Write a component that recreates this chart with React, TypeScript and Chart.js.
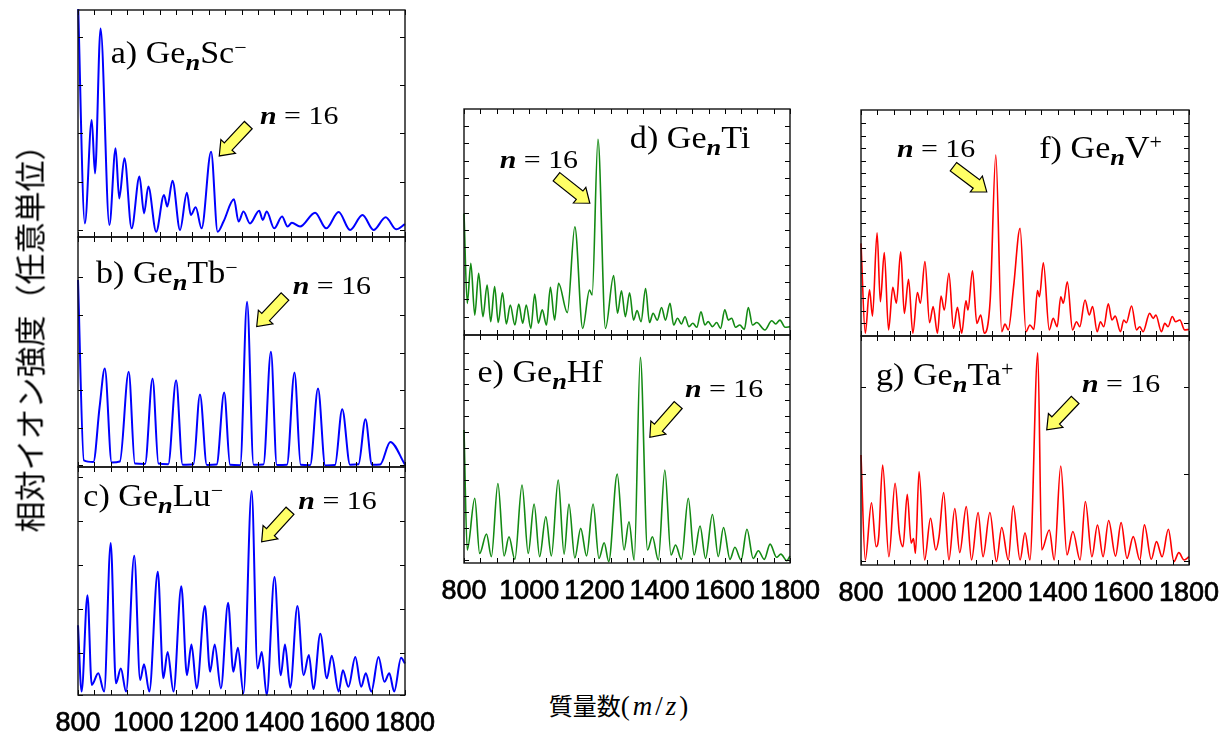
import React, { useEffect, useRef } from "react";
import { Chart, registerables } from "chart.js";

Chart.register(...registerables);

// ---------- axis settings ----------
const X_MIN = 800;
const X_MAX = 1800;
const X_LABEL_STEP = 200;
const X_MINOR_STEP = 50;
const Y_MIN = 0;
const Y_MAX = 100;

// ---------- a) GenSc- ----------
const scMz = [800, 821, 842, 852, 869, 896, 915, 926, 942, 964, 988, 1002, 1015, 1039, 1063, 1073, 1089, 1112, 1133, 1145, 1160, 1178, 1207, 1227, 1245, 1277, 1291, 1306, 1326, 1354, 1365, 1377, 1400, 1424, 1441, 1454, 1479, 1525, 1559, 1597, 1632, 1670, 1704, 1741, 1773, 1800];
const scInt = [104, 6.0, 51.5, 28.0, 91.9, 5.3, 39.1, 17.0, 34.7, 3.8, 26.6, 10.4, 22.2, 2.3, 18.5, 13.4, 24.8, 3.1, 19.5, 9.7, 13.1, 3.8, 37.6, 2.3, 6.8, 16.6, 6.8, 11.2, 6.0, 11.6, 7.5, 11.2, 3.8, 9.0, 4.6, 6.3, 4.6, 10.7, 3.8, 11.0, 3.1, 9.7, 3.1, 8.7, 3.4, 5.7];
const scYTicks = [3.1, 24.4, 45.7, 67.0, 88.3];

// ---------- b) GenTb- ----------
const tbMz = [800, 818, 847, 866, 882, 903, 928, 955, 974, 1005, 1028, 1046, 1076, 1100, 1120, 1153, 1173, 1194, 1224, 1247, 1265, 1296, 1317, 1337, 1367, 1390, 1408, 1439, 1462, 1481, 1510, 1534, 1556, 1586, 1608, 1632, 1658, 1679, 1699, 1724, 1755, 1800];
const tbInt = [81.3, 2.9, 2.2, 26, 42.8, 2.0, 2.4, 41.4, 1.5, 1.3, 38.5, 1.5, 1.2, 37.7, 1.0, 1.2, 31.5, 0.9, 1.1, 32.4, 1.0, 0.8, 71.8, 1.0, 1.1, 50.1, 0.9, 1.0, 41.1, 1.0, 0.8, 34.1, 0.7, 0.9, 25.1, 1.0, 1.2, 20.8, 1.0, 1.1, 10.9, 1.0];
const tbYTicks = [0.7, 17.0, 33.4, 49.6, 66.3, 82.7];

// ---------- c) GenLu- ----------
const luMz = [800, 811, 829, 842, 862, 880, 900, 916, 931, 947, 972, 990, 1002, 1018, 1044, 1061, 1074, 1092, 1116, 1133, 1147, 1163, 1188, 1204, 1218, 1237, 1259, 1275, 1289, 1306, 1331, 1349, 1362, 1377, 1401, 1420, 1433, 1449, 1471, 1490, 1506, 1520, 1541, 1561, 1576, 1597, 1610, 1627, 1648, 1666, 1680, 1697, 1719, 1737, 1752, 1767, 1788, 1800];
const luInt = [30.6, 1.5, 43.7, 4.4, 9.5, 1.5, 66.7, 5.1, 11.6, 1.5, 61.1, 6.6, 13.5, 1.5, 54.1, 7.3, 18.9, 1.5, 47.7, 8.7, 22.1, 2.9, 39.0, 10.2, 22.1, 2.9, 40.5, 10.2, 20.7, 0.7, 89.5, 11.6, 18.9, 0, 51.7, 8.7, 22.1, 3.2, 39.0, 8.7, 17.5, 2.6, 26.9, 7.3, 17.2, 1.5, 10.9, 3.6, 16.7, 3.6, 9.5, 1.5, 16.7, 5.8, 9.5, 1.5, 16.3, 13.8];
const luYTicks = [0, 18.6, 37.8, 57.1, 76.4, 95.6];

// ---------- d) GenTi ----------
const tiMz = [800, 810, 821, 833, 845, 858, 871, 882, 894, 905, 918, 930, 942, 956, 968, 980, 991, 1005, 1017, 1028, 1040, 1053, 1065, 1078, 1090, 1117, 1140, 1164, 1185, 1193, 1211, 1234, 1259, 1271, 1283, 1295, 1308, 1320, 1331, 1343, 1357, 1369, 1380, 1393, 1406, 1418, 1432, 1443, 1455, 1467, 1478, 1490, 1502, 1514, 1527, 1539, 1549, 1562, 1575, 1587, 1600, 1611, 1621, 1633, 1646, 1660, 1672, 1685, 1698, 1723, 1744, 1756, 1769, 1785, 1800];
const tiInt = [53.8, 14.0, 31.7, 8.8, 27.3, 8.1, 22.1, 5.9, 21.4, 5.5, 18.7, 4.9, 13.3, 4.4, 13.7, 5.2, 13.3, 2.9, 18.1, 5.2, 11.1, 4.4, 21.1, 6.6, 22.9, 9.9, 47.9, 2.9, 19.9, 17.7, 86.6, 2.9, 26.3, 9.6, 19.6, 8.1, 18.7, 6.6, 10.8, 5.9, 20.6, 5.5, 9.6, 6.6, 12.2, 6.6, 14.0, 4.4, 7.4, 4.9, 8.1, 3.7, 5.2, 3.4, 10.3, 4.4, 5.9, 3.7, 5.5, 2.9, 11.1, 6.6, 7.4, 3.4, 4.4, 2.5, 12.2, 4.4, 5.5, 2.2, 6.3, 4.9, 6.6, 3.4, 3.7];
const tiYTicks = [8.1, 15.8, 23.4, 31.1, 38.8, 46.4, 54.1, 61.8, 69.4, 77.1, 84.8, 92.4];

// ---------- e) GenHf ----------
const hfMz = [800, 810, 833, 848, 869, 884, 904, 923, 938, 956, 978, 997, 1015, 1032, 1051, 1068, 1089, 1107, 1122, 1140, 1158, 1176, 1196, 1214, 1230, 1244, 1270, 1291, 1306, 1322, 1341, 1363, 1378, 1396, 1416, 1435, 1449, 1467, 1488, 1506, 1524, 1541, 1562, 1580, 1596, 1616, 1631, 1650, 1668, 1687, 1703, 1721, 1739, 1759, 1772, 1790, 1800];
const hfInt = [58.3, 5.7, 28.4, 4.2, 12.7, 2.8, 34.9, 3.1, 11.5, 1.6, 34.2, 4.2, 25.9, 2.8, 20.3, 3.1, 36.4, 3.9, 25.9, 2.2, 15.2, 3.1, 25.9, 2.0, 8.9, 0.6, 39.0, 5.7, 18.1, 1.3, 90.2, 5.7, 11.5, 1.3, 40.8, 3.5, 7.9, 1.6, 28.4, 3.5, 16.2, 2.0, 21.3, 2.8, 15.6, 1.6, 6.9, 1.3, 14.8, 2.0, 5.4, 1.6, 8.3, 2.5, 3.9, 1.0, 3.1];
const hfYTicks = [1.3, 8.3, 15.3, 22.3, 29.3, 36.3, 43.3, 50.3, 57.3, 64.3, 71.3, 78.3, 85.3, 92.3];

// ---------- f) GenV+ ----------
const vMz = [800, 813, 826, 835, 849, 859, 871, 884, 897, 908, 921, 932, 945, 958, 972, 981, 995, 1009, 1020, 1033, 1044, 1054, 1068, 1082, 1094, 1107, 1120, 1126, 1140, 1153, 1165, 1176, 1194, 1211, 1229, 1239, 1249, 1265, 1285, 1303, 1315, 1327, 1338, 1344, 1356, 1374, 1386, 1398, 1409, 1417, 1429, 1445, 1457, 1467, 1483, 1496, 1506, 1520, 1530, 1540, 1554, 1565, 1575, 1591, 1601, 1609, 1625, 1640, 1650, 1660, 1680, 1691, 1699, 1716, 1726, 1736, 1749, 1759, 1772, 1787, 1800];
const vInt = [41.0, 1.2, 20.4, 8.8, 45.7, 15.2, 36.9, 2.7, 21.5, 14.5, 37.3, 10.0, 25.1, 1.2, 19.2, 14.5, 32.9, 5.9, 13.0, 1.2, 17.7, 11.5, 27.7, 3.4, 12.7, 1.2, 15.6, 11.5, 28.9, 5.6, 9.3, 1.2, 16.2, 80.1, 1.9, 5.3, 2.7, 21.5, 47.6, 1.9, 4.9, 2.9, 20.1, 17.4, 32.4, 2.7, 7.8, 4.1, 17.4, 14.5, 24.0, 2.7, 6.3, 4.1, 15.9, 9.3, 13.0, 1.9, 6.3, 4.1, 14.2, 7.1, 8.8, 1.9, 7.1, 5.9, 13.3, 2.7, 4.1, 1.9, 10.0, 7.8, 9.3, 1.9, 5.6, 4.1, 8.6, 6.3, 7.1, 2.7, 2.9];
const vYTicks = [5.6, 11.1, 16.7, 22.2, 27.7, 33.3, 38.8, 44.3, 49.8, 55.4, 60.9, 66.4, 72.0, 77.5, 83.0, 88.5, 94.1];

// ---------- g) GenTa+ ----------
const taMz = [800, 813, 832, 846, 854, 866, 885, 904, 917, 928, 941, 953, 960, 966, 977, 994, 1012, 1028, 1038, 1052, 1068, 1086, 1101, 1121, 1137, 1157, 1172, 1193, 1213, 1229, 1249, 1264, 1285, 1300, 1315, 1339, 1351, 1374, 1389, 1409, 1428, 1446, 1468, 1484, 1504, 1521, 1538, 1555, 1576, 1593, 1611, 1630, 1650, 1664, 1685, 1701, 1718, 1737, 1754, 1769, 1785, 1800];
const taInt = [48.0, 2.2, 27.2, 8.0, 12.4, 43.7, 3.6, 35.7, 13.8, 8.0, 30.9, 9.5, 11.6, 5.1, 40.8, 2.2, 20.4, 6.6, 12.4, 31.6, 2.2, 24.7, 5.4, 25.5, 2.2, 22.9, 3.6, 22.9, 1.5, 16.4, 2.2, 25.8, 2.2, 14.1, 2.2, 92.7, 6.6, 15.3, 2.2, 43.2, 4.4, 14.6, 2.2, 27.7, 3.6, 17.5, 3.6, 19.4, 3.9, 18.5, 2.9, 12.4, 2.2, 17.5, 2.5, 10.2, 3.6, 15.6, 1.5, 5.4, 2.2, 3.6];
const taYTicks = [1.9, 39.7, 77.6];

// ---------- style ----------
const BLUE = "#0000ff";
const GREEN = "#138a13";
const RED = "#ff0000";
const SERIF = '"Liberation Serif", "Times New Roman", serif';
const SANS = '"Liberation Sans", Arial, sans-serif';
const CJK = '"Noto Sans CJK JP", sans-serif';

const PAD_L = 44;
const PAD_R = 44;
const PAD_T = 6;
const PAD_B = 6;
const X_AXIS_H = 50;

type Pt = [number, number];
type PanelSpec = {
  key: string;
  mz: number[];
  inten: number[];
  color: string;
  lineWidth: number;
  yTicks: number[];
  showX: boolean;
  box: { left: number; top: number; width: number; height: number };
  letter: string;
  element: string;
  charge: string;
  labelAt: Pt;
  nAt: Pt;
  arrowTail: Pt;
  arrowTip: Pt;
};

const PANELS: PanelSpec[] = [
  { key: "a", mz: scMz, inten: scInt, color: BLUE, lineWidth: 2, yTicks: scYTicks, showX: false,
    box: { left: 78, top: 10, width: 327, height: 227 }, letter: "a", element: "Sc", charge: "\u2212",
    labelAt: [900, 76.7], nAt: [1356.6, 49.8], arrowTail: [1320.8, 49.3], arrowTip: [1232, 35.7] },
  { key: "b", mz: tbMz, inten: tbInt, color: BLUE, lineWidth: 2, yTicks: tbYTicks, showX: false,
    box: { left: 78, top: 237, width: 327, height: 230 }, letter: "b", element: "Tb", charge: "\u2212",
    labelAt: [855, 80.0], nAt: [1456.6, 75.2], arrowTail: [1433, 74.1], arrowTip: [1346.5, 61.1] },
  { key: "c", mz: luMz, inten: luInt, color: BLUE, lineWidth: 2, yTicks: luYTicks, showX: true,
    box: { left: 78, top: 467, width: 327, height: 228 }, letter: "c", element: "Lu", charge: "\u2212",
    labelAt: [816.2, 83.0], nAt: [1473.7, 81.5], arrowTail: [1448.3, 80.8], arrowTip: [1361.7, 67.2] },
  { key: "d", mz: tiMz, inten: tiInt, color: GREEN, lineWidth: 1.6, yTicks: tiYTicks, showX: false,
    box: { left: 464, top: 109, width: 326, height: 226 }, letter: "d", element: "Ti", charge: "",
    labelAt: [1308.7, 82.6], nAt: [909.6, 73.8], arrowTail: [1083.7, 70.0], arrowTip: [1185.9, 58.3] },
  { key: "e", mz: hfMz, inten: hfInt, color: GREEN, lineWidth: 1.6, yTicks: hfYTicks, showX: true,
    box: { left: 464, top: 335, width: 326, height: 228 }, letter: "e", element: "Hf", charge: "",
    labelAt: [841.1, 79.5], nAt: [1477.6, 72.9], arrowTail: [1457, 69.3], arrowTip: [1370.1, 55.1] },
  { key: "f", mz: vMz, inten: vInt, color: RED, lineWidth: 1.6, yTicks: vYTicks, showX: false,
    box: { left: 861, top: 110, width: 328, height: 226 }, letter: "f", element: "V", charge: "+",
    labelAt: [1343.5, 78.6], nAt: [909.5, 79.1], arrowTail: [1081.8, 74.9], arrowTip: [1183.4, 63.8] },
  { key: "g", mz: taMz, inten: taInt, color: RED, lineWidth: 1.6, yTicks: taYTicks, showX: true,
    box: { left: 861, top: 336, width: 328, height: 229 }, letter: "g", element: "Ta", charge: "+",
    labelAt: [845.9, 78.6], nAt: [1473.4, 75.7], arrowTail: [1452.9, 72.1], arrowTip: [1366.3, 59.0] },
];

type Part = { text: string; font: string; dy: number };

function drawRich(ctx: CanvasRenderingContext2D, x: number, y: number, parts: Part[], stretch: number) {
  ctx.save();
  ctx.translate(x, y);
  ctx.scale(stretch, 1);
  ctx.fillStyle = "#000";
  ctx.textBaseline = "alphabetic";
  ctx.textAlign = "left";
  let cx = 0;
  for (const part of parts) {
    ctx.font = part.font;
    ctx.fillText(part.text, cx, part.dy);
    cx += ctx.measureText(part.text).width;
  }
  ctx.restore();
}

function drawArrow(ctx: CanvasRenderingContext2D, x0: number, y0: number, x1: number, y1: number) {
  const dx = x1 - x0;
  const dy = y1 - y0;
  const L = Math.hypot(dx, dy);
  const ux = dx / L;
  const uy = dy / L;
  const vx = -uy;
  const vy = ux;
  const sw = 5.3;
  const hw = 10;
  const hl = 13;
  const pts: Pt[] = [[0, -sw], [L - hl, -sw], [L - hl, -hw], [L, 0], [L - hl, hw], [L - hl, sw], [0, sw]];
  ctx.save();
  ctx.beginPath();
  pts.forEach(([a, b], i) => {
    const px = x0 + ux * a + vx * b;
    const py = y0 + uy * a + vy * b;
    if (i === 0) ctx.moveTo(px, py);
    else ctx.lineTo(px, py);
  });
  ctx.closePath();
  ctx.fillStyle = "#ffff66";
  ctx.fill();
  ctx.strokeStyle = "#000";
  ctx.lineWidth = 1.2;
  ctx.lineJoin = "miter";
  ctx.stroke();
  ctx.restore();
}

function makeDecoPlugin(p: PanelSpec) {
  return {
    id: "deco_" + p.key,
    afterDatasetsDraw(chart: any) {
      const ctx: CanvasRenderingContext2D = chart.ctx;
      const area = chart.chartArea;
      const xs = chart.scales.x;
      const ys = chart.scales.y;
      const TL = 5;
      ctx.save();
      // inner tick marks
      ctx.strokeStyle = "#000";
      ctx.lineWidth = 1;
      ctx.beginPath();
      for (let v = X_MIN; v <= X_MAX; v += X_MINOR_STEP) {
        const px = Math.round(xs.getPixelForValue(v)) + 0.5;
        ctx.moveTo(px, area.bottom);
        ctx.lineTo(px, area.bottom - TL);
        ctx.moveTo(px, area.top);
        ctx.lineTo(px, area.top + TL);
      }
      for (const v of p.yTicks) {
        const py = Math.round(ys.getPixelForValue(v)) + 0.5;
        ctx.moveTo(area.left, py);
        ctx.lineTo(area.left + TL, py);
        ctx.moveTo(area.right, py);
        ctx.lineTo(area.right - TL, py);
      }
      ctx.stroke();
      // frame
      ctx.lineWidth = 1.4;
      ctx.strokeStyle = "#111";
      ctx.strokeRect(area.left, area.top, area.right - area.left, area.bottom - area.top);
      ctx.restore();

      // panel label
      const labelParts: Part[] = [
        { text: `${p.letter}) Ge`, font: `31px ${SERIF}`, dy: 0 },
        { text: "n", font: `italic bold 24px ${SERIF}`, dy: 7 },
        { text: p.element, font: `31px ${SERIF}`, dy: 0 },
      ];
      if (p.charge) labelParts.push({ text: p.charge, font: `20px ${SERIF}`, dy: -9 });
      drawRich(ctx, xs.getPixelForValue(p.labelAt[0]), ys.getPixelForValue(p.labelAt[1]), labelParts, 1.1);

      // n = 16
      const nParts: Part[] = [
        { text: "n", font: `italic bold 26px ${SERIF}`, dy: 0 },
        { text: " = 16", font: `26px ${SERIF}`, dy: 0 },
      ];
      drawRich(ctx, xs.getPixelForValue(p.nAt[0]), ys.getPixelForValue(p.nAt[1]), nParts, 1.15);

      drawArrow(
        ctx,
        xs.getPixelForValue(p.arrowTail[0]),
        ys.getPixelForValue(p.arrowTail[1]),
        xs.getPixelForValue(p.arrowTip[0]),
        ys.getPixelForValue(p.arrowTip[1])
      );
    },
  };
}

function PanelChart({ p }: { p: PanelSpec }) {
  const ref = useRef<HTMLCanvasElement>(null);
  const w = p.box.width + PAD_L + PAD_R;
  const h = p.box.height + PAD_T + PAD_B + (p.showX ? X_AXIS_H : 0);

  useEffect(() => {
    const canvas = ref.current;
    if (!canvas) return;
    const xScale: any = {
      type: "linear",
      min: X_MIN,
      max: X_MAX,
      display: p.showX,
      grid: { display: false, drawTicks: false },
      border: { display: false },
      ticks: {
        stepSize: X_LABEL_STEP,
        autoSkip: false,
        maxRotation: 0,
        minRotation: 0,
        padding: 12,
        color: "#000",
        textStrokeColor: "#000",
        textStrokeWidth: 0.7,
        font: { family: SANS, size: 27 },
        callback: (v: any) => String(v),
      },
    };
    if (p.showX) {
      xScale.afterFit = (s: any) => {
        s.height = X_AXIS_H;
      };
    }
    const chart = new Chart(canvas, {
      type: "line",
      data: {
        datasets: [
          {
            data: p.mz.map((m, i) => ({ x: m, y: p.inten[i] })),
            borderColor: p.color,
            borderWidth: p.lineWidth,
            pointRadius: 0,
            fill: false,
            cubicInterpolationMode: "monotone",
            clip: 1,
          } as any,
        ],
      },
      options: {
        responsive: false,
        animation: false,
        events: [],
        layout: { padding: { left: PAD_L, right: PAD_R, top: PAD_T, bottom: PAD_B } },
        plugins: { legend: { display: false }, tooltip: { enabled: false }, title: { display: false } },
        scales: {
          x: xScale,
          y: {
            type: "linear",
            min: Y_MIN,
            max: Y_MAX,
            display: false,
          },
        },
      } as any,
      plugins: [makeDecoPlugin(p)],
    });
    return () => chart.destroy();
  }, [p]);

  return (
    <div style={{ position: "absolute", left: p.box.left - PAD_L, top: p.box.top - PAD_T, width: w, height: h }}>
      <canvas ref={ref} width={w} height={h} style={{ width: w, height: h, display: "block" }} />
    </div>
  );
}

export default function App() {
  return (
    <div style={{ position: "absolute", left: 0, top: 0, width: 1229, height: 737, background: "#fff", overflow: "hidden" }}>
      {PANELS.map((p) => (
        <PanelChart key={p.key} p={p} />
      ))}
      <div
        style={{
          position: "absolute",
          left: 28,
          top: 331,
          transform: "translate(-50%, -50%) rotate(-90deg)",
          fontFamily: CJK,
          fontSize: 31,
          lineHeight: 1,
          whiteSpace: "nowrap",
          color: "#000",
        }}
      >
        相対イオン強度（任意単位）
      </div>
      <div
        style={{
          position: "absolute",
          left: 620,
          top: 706,
          transform: "translate(-50%, -50%)",
          whiteSpace: "nowrap",
          lineHeight: 1,
          color: "#000",
        }}
      >
        <span style={{ fontFamily: CJK, fontSize: 24 }}>質量数</span>
        <span style={{ fontFamily: SERIF, fontSize: 27, letterSpacing: 3 }}>
          (<i>m</i>/<i>z</i>)
        </span>
      </div>
    </div>
  );
}
